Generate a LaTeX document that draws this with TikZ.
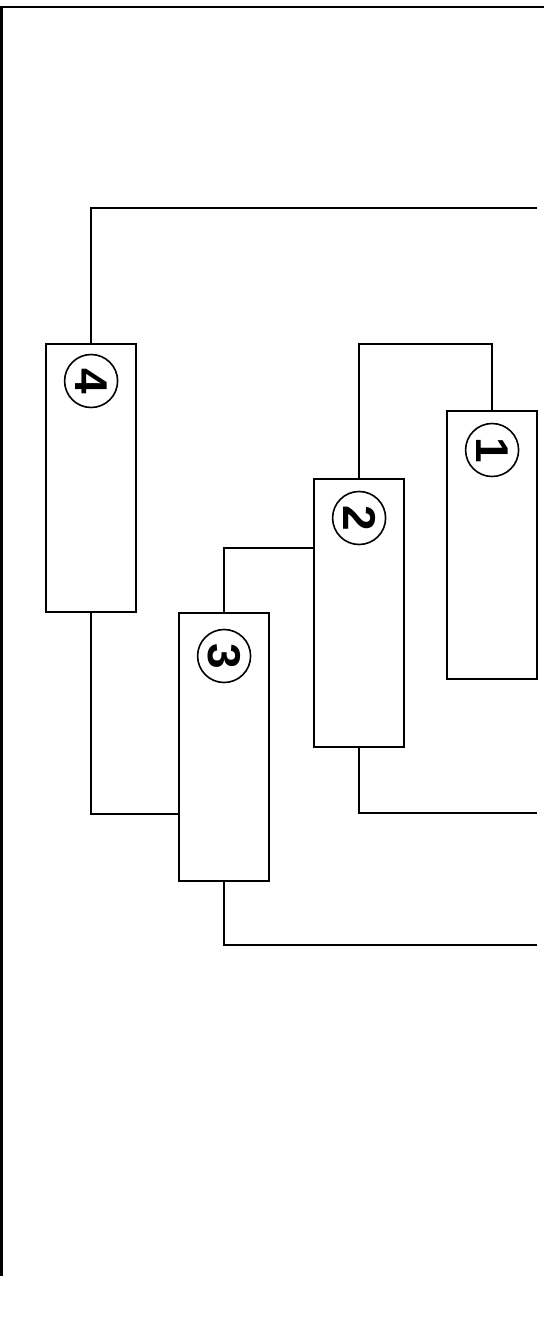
\documentclass[tikz,border=0pt]{standalone}
\usepackage{fontspec}
\setmainfont{Liberation Sans}
\begin{document}
\begin{tikzpicture}[x=1pt,y=1pt,
  unit/.style={draw, line width=2.2pt, minimum width=90pt, minimum height=268pt,
    inner sep=0pt, anchor=north west},
  tag/.style={draw, circle, line width=1.6pt, minimum size=53pt, inner sep=0pt,
    font=\fontsize{46}{46}\selectfont\bfseries, rotate=-90},
  wire/.style={line width=2pt},
  frameline/.style={line width=2.6pt}]
\useasboundingbox (0,0) rectangle (544,-1344);

% sheet frame (top and left edges)
\coordinate (fTL) at (1.5,-7);
\coordinate (fTR) at (544,-7);
\coordinate (fBL) at (1.5,-1276);
\draw[frameline] (fTR) -- (fTL) -- (fBL);

% the four units
\node[unit] (b4) at (45,-343) {};
\node[unit] (b3) at (178,-612) {};
\node[unit] (b2) at (313,-478) {};
\node[unit] (b1) at (446,-410) {};

% numbered tags
\node[tag] (n4) at ([yshift=-38pt]b4.north) {4};
\node[tag] (n3) at ([yshift=-44pt]b3.north) {3};
\node[tag] (n2) at ([yshift=-40pt]b2.north) {2};
\node[tag] (n1) at ([yshift=-40pt]b1.north) {1};

% free ends at the right margin
\coordinate (e4) at (537,-208);
\coordinate (e2) at (537,-813);
\coordinate (e3) at (537,-945);

% wiring
\draw[wire] (b4.north) |- (e4);
\draw[wire] (b4.south) |- ([yshift=-67pt]b3.west);
\draw[wire] (b3.north) |- ([yshift=65.5pt]b2.west);
\draw[wire] (b2.north) -- ++(0,134) -| (b1.north);
\draw[wire] (b2.south) |- (e2);
\draw[wire] (b3.south) |- (e3);
\end{tikzpicture}
\end{document}
